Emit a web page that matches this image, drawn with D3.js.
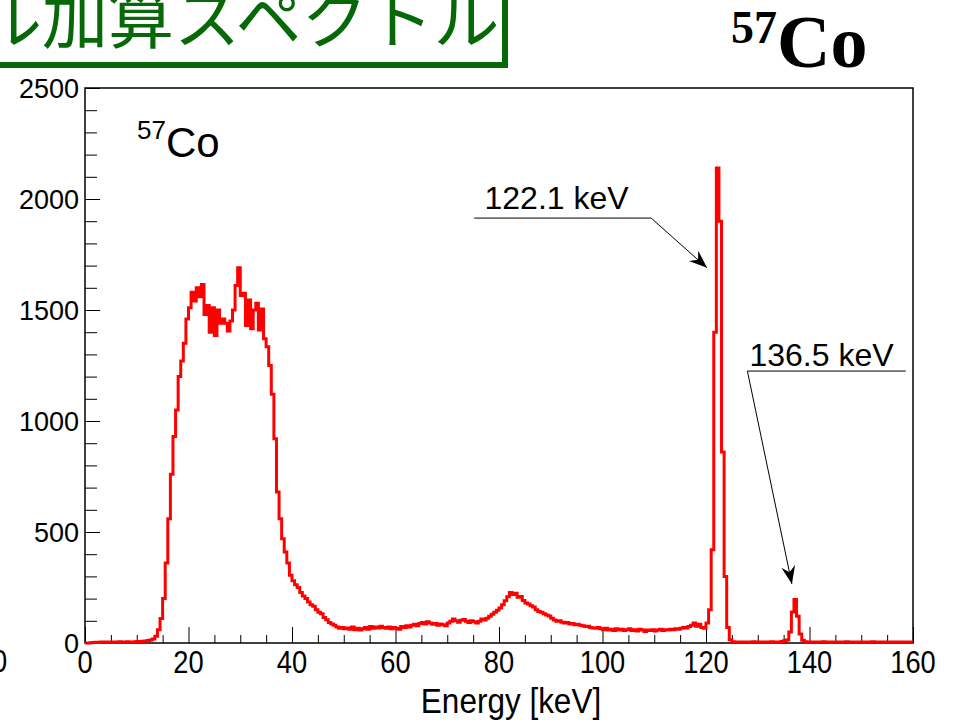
<!DOCTYPE html>
<html>
<head>
<meta charset="utf-8">
<script src="https://cdn.jsdelivr.net/npm/d3@7"></script>
<style>
  body { margin: 0; background: #fff; }
  svg { display: block; }
</style>
</head>
<body>
<svg id="chart" width="955" height="720"></svg>
<script>
// 57Co summed spectrum, 0.5 keV bins from 0 to 160 keV
const binWidth = 0.5;
const counts = [
  // 0 - 13 keV
  0,0,1,2,3,2,4,3,5,4,3,5,4,6,5,4,6,5,4,6,7,6,8,9,11,14,
  // 13 - 20 keV rising edge
  18,30,60,110,200,360,560,760,930,1050,1200,1270,1350,1460,
  // 20 - 35 keV plateau
  1510,1580,1540,1600,1560,1615,1480,1520,1400,1510,1385,1500,1440,1460,1440,
  1405,1450,1500,1610,1690,1565,1575,1430,1545,1415,1500,1530,1410,1505,1370,
  // 35 - 50 keV falling edge
  1335,1250,1120,920,680,560,470,410,360,305,280,262,250,228,212,
  200,185,172,165,150,138,132,115,105,92,86,80,72,66,70,
  // 50 - 70 keV
  64,68,62,72,60,66,58,64,70,62,74,66,72,68,76,70,66,72,64,70,
  66,62,74,70,78,72,80,84,78,88,92,86,96,90,84,88,80,86,82,78,
  // 70 - 90 keV (bump around 82 keV)
  90,98,108,100,94,102,106,98,92,100,96,90,98,108,104,112,120,130,138,148,
  158,172,190,208,228,218,224,206,210,192,180,176,168,162,150,142,138,132,126,122,
  // 90 - 120 keV
  112,104,98,100,94,90,92,86,88,82,84,80,78,74,76,70,68,66,70,64,
  60,66,58,62,56,64,58,62,56,60,64,56,60,54,62,58,52,58,56,60,
  54,58,62,56,60,58,62,60,64,62,66,70,68,74,80,90,76,84,70,66,
  // 120 - 125 keV (122.1 keV line)
  90,150,420,1400,2140,1900,860,300,70,15,
  // 125 - 135 keV
  6,4,5,3,4,5,3,4,6,4,5,3,4,5,4,6,5,4,5,7,
  // 135 - 140 keV (136.5 keV line)
  10,14,50,140,196,120,40,12,6,4,
  // 140 - 160 keV
  5,4,3,5,4,6,4,3,5,4,4,5,3,4,6,4,5,3,4,5,
  4,3,5,4,6,4,3,5,4,3,5,4,4,3,5,4,3,4,5,3
];

const xTicks = [0, 20, 40, 60, 80, 100, 120, 140, 160];
const yTicks = [0, 500, 1000, 1500, 2000, 2500];

// Peak annotations (energy / counts coordinates)
const peakLabels   = ["122.1 keV", "136.5 keV"];
const peakTipE     = [120.2, 136.6];
const peakTipC     = [1690, 266];
const underlineE0  = [75.2, 128.0];
const underlineE1  = [109.4, 158.6];
const underlineC   = [1914, 1225];
const arrowFromE   = [109.4, 128.0];
const labelE       = [77.2, 128.4];
const labelC       = [1955, 1250];

const svg = d3.select("#chart");
const margin = { left: 85, right: 42, top: 88, bottom: 77 };
const W = 955, H = 720;

const x = d3.scaleLinear().domain([0, 160]).range([margin.left, W - margin.right]);
const y = d3.scaleLinear().domain([0, 2500]).range([H - margin.bottom, margin.top]);

const sans = "'Liberation Sans', Arial, Helvetica, sans-serif";

// Title banner (green frame, partially off the page)
const green = "#066806";
svg.append("rect")
  .attr("x", -20).attr("y", -20)
  .attr("width", 525).attr("height", 85)
  .attr("fill", "none").attr("stroke", green).attr("stroke-width", 6);
svg.append("text")
  .attr("x", -24).attr("y", 43)
  .attr("font-family", "'Noto Sans CJK JP', sans-serif")
  .attr("font-size", 66)
  .attr("fill", green)
  .text("ル加算スペクトル");

// Isotope heading at top right
const head = svg.append("text")
  .attr("x", 731).attr("y", 67)
  .attr("font-family", "'Liberation Serif', 'Times New Roman', serif")
  .attr("font-weight", "bold")
  .attr("fill", "#000");
head.append("tspan").attr("font-size", 46).attr("dy", -24).text("57");
head.append("tspan").attr("font-size", 74).attr("dy", 24).text("Co");

// Stray axis label from the neighbouring panel at the left edge
svg.append("text")
  .attr("transform", "translate(-8,672) scale(0.88,1)")
  .attr("font-family", sans).attr("font-size", 31)
  .attr("fill", "#000").text("0");

// Plot frame
const g = svg.append("g");
g.append("rect")
  .attr("x", x(0)).attr("y", y(2500))
  .attr("width", x(160) - x(0)).attr("height", y(0) - y(2500))
  .attr("fill", "none").attr("stroke", "#000").attr("stroke-width", 1.5);

// Y axis: major every 500, minor every 100 (ticks point inward)
const yAxis = d3.axisRight(y)
  .tickValues(d3.range(0, 2501, 100))
  .tickSize(0)
  .tickFormat("");
const yAx = g.append("g").attr("transform", `translate(${x(0)},0)`).call(yAxis);
yAx.select(".domain").remove();
yAx.selectAll(".tick line")
  .attr("x2", d => (d % 500 === 0 ? 15 : 12))
  .attr("stroke", "#000").attr("stroke-width", 1);
g.selectAll(".ylab").data(yTicks).join("text")
  .attr("class", "ylab")
  .attr("x", x(0) - 6).attr("y", d => y(d) + 10)
  .attr("text-anchor", "end")
  .attr("font-family", sans).attr("font-size", 27)
  .attr("fill", "#000")
  .text(d => d);

// X axis: major every 20, minor every 5 (ticks point inward)
const xAxis = d3.axisTop(x)
  .tickValues(d3.range(0, 161, 5))
  .tickSize(0)
  .tickFormat("");
const xAx = g.append("g").attr("transform", `translate(0,${y(0)})`).call(xAxis);
xAx.select(".domain").remove();
xAx.selectAll(".tick line")
  .attr("y2", d => (d % 20 === 0 ? -16 : -8))
  .attr("stroke", "#000").attr("stroke-width", 1);
g.selectAll(".xlab").data(xTicks).join("text")
  .attr("class", "xlab")
  .attr("transform", d => `translate(${x(d)},${y(0) + 30}) scale(0.88,1)`)
  .attr("text-anchor", "middle")
  .attr("font-family", sans).attr("font-size", 31)
  .attr("fill", "#000")
  .text(d => d);

// Axis title
g.append("text")
  .attr("transform", "translate(511,713) scale(0.9,1)")
  .attr("text-anchor", "middle")
  .attr("font-family", sans).attr("font-size", 35)
  .attr("fill", "#000")
  .text("Energy [keV]");

// Histogram drawn as a step line
const pts = counts.map((c, i) => [i * binWidth, c]);
pts.push([counts.length * binWidth, counts[counts.length - 1]]);
const line = d3.line()
  .x(d => x(d[0])).y(d => y(d[1]))
  .curve(d3.curveStepAfter);
g.append("path")
  .datum(pts)
  .attr("d", line)
  .attr("fill", "none")
  .attr("stroke", "#ff0000")
  .attr("stroke-width", 3)
  .attr("stroke-linejoin", "miter");

// Isotope label inside the frame
const iso = g.append("text")
  .attr("x", 137).attr("y", 157)
  .attr("font-family", sans).attr("fill", "#000");
iso.append("tspan").attr("font-size", 26).attr("dy", -18).text("57");
iso.append("tspan").attr("font-size", 42).attr("dy", 18).text("Co");

// Peak annotations: underlined label + arrow to the line
peakLabels.forEach((lab, i) => {
  const ux0 = x(underlineE0[i]), ux1 = x(underlineE1[i]), uy = y(underlineC[i]);
  const fx = x(arrowFromE[i]);
  const tx = x(peakTipE[i]), ty = y(peakTipC[i]);
  g.append("text")
    .attr("x", x(labelE[i])).attr("y", y(labelC[i]))
    .attr("font-family", sans).attr("font-size", 32)
    .attr("fill", "#000").text(lab);
  g.append("line")
    .attr("x1", ux0).attr("y1", uy).attr("x2", ux1).attr("y2", uy)
    .attr("stroke", "#000").attr("stroke-width", 1);
  g.append("line")
    .attr("x1", fx).attr("y1", uy).attr("x2", tx).attr("y2", ty)
    .attr("stroke", "#000").attr("stroke-width", 1);
  // filled arrow head with a notched back
  const ang = Math.atan2(ty - uy, tx - fx);
  const L = 18, Wd = 7, N = 12;
  const ca = Math.cos(ang), sa = Math.sin(ang);
  const bx = tx - L * ca, by = ty - L * sa;
  const nx = tx - N * ca, ny = ty - N * sa;
  const p = [
    [tx, ty],
    [bx - Wd * sa, by + Wd * ca],
    [nx, ny],
    [bx + Wd * sa, by - Wd * ca]
  ];
  g.append("path")
    .attr("d", "M" + p.map(q => q.join(",")).join("L") + "Z")
    .attr("fill", "#000");
});
</script>
</body>
</html>
